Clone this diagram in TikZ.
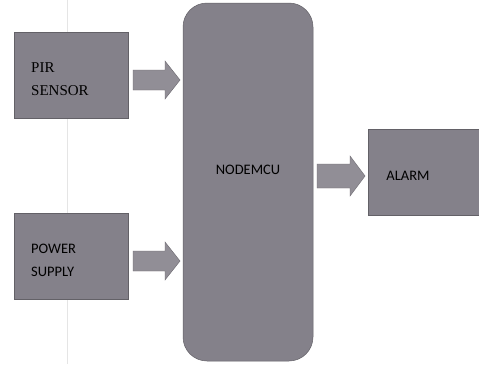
\documentclass[tikz,border=0pt]{standalone}
\usepackage{fontspec}
\setmainfont{Carlito}
\newfontfamily\serifface{Liberation Serif}
\usetikzlibrary{calc}
\definecolor{boxgray}{RGB}{132,129,138}
\definecolor{arrgray}{RGB}{145,142,150}
\definecolor{txtdark}{RGB}{20,18,24}
\newcommand\blkarrow[5]{% start, end, body half, head half, head length
  \fill[arrgray, draw=boxgray!80!black, line width=0.4pt]
    ($(#1)+(0,-#3)$) -- ($(#2)+(-#5,-#3)$) -- ($(#2)+(-#5,-#4)$) -- (#2)
    -- ($(#2)+(-#5,#4)$) -- ($(#2)+(-#5,#3)$) -- ($(#1)+(0,#3)$) -- cycle;}
\begin{document}
\begin{tikzpicture}[x=1pt,y=-1pt,
  blockbox/.style={fill=boxgray, draw=boxgray!75!black, line width=0.5pt},
  lbl/.style={text=black, font=\fontsize{14.5}{23}\selectfont, inner sep=0pt}]
\useasboundingbox (0,0) rectangle (479,364);
\fill[white] (0,0) rectangle (479,364);
\draw[black!10, line width=0.6pt] (67,0) -- (67,364);
% boxes
\path[blockbox] (14,32) rectangle (128,118);
\node[inner sep=0pt] (pir) at (71,75) {};
\path[blockbox] (14,213) rectangle (128,299);
\node[inner sep=0pt] (pow) at (71,256) {};
\path[blockbox, rounded corners=24pt] (183,3) rectangle (313,361);
\node[lbl] (mcu) at (248,170) {NODEMCU};
\path[blockbox] (368,129) rectangle (479,215);
\node[lbl] (alarm) at (408,176) {ALARM};
% texts
\node[lbl, anchor=west, align=left, font=\serifface\fontsize{15}{23}\selectfont] (pirtxt) at (31,79) {PIR\\SENSOR};
\node[lbl, anchor=west, align=left] (powtxt) at (31,260) {POWER\\SUPPLY};
% arrows
\coordinate (a1s) at (133,80); \coordinate (a1e) at (180,80);
\coordinate (a2s) at (133,261); \coordinate (a2e) at (180,261);
\coordinate (a3s) at (317,176); \coordinate (a3e) at (365,176);
\blkarrow{a1s}{a1e}{10}{19}{15}
\blkarrow{a2s}{a2e}{10}{19}{15}
\blkarrow{a3s}{a3e}{12}{20}{15}
\end{tikzpicture}
\end{document}
